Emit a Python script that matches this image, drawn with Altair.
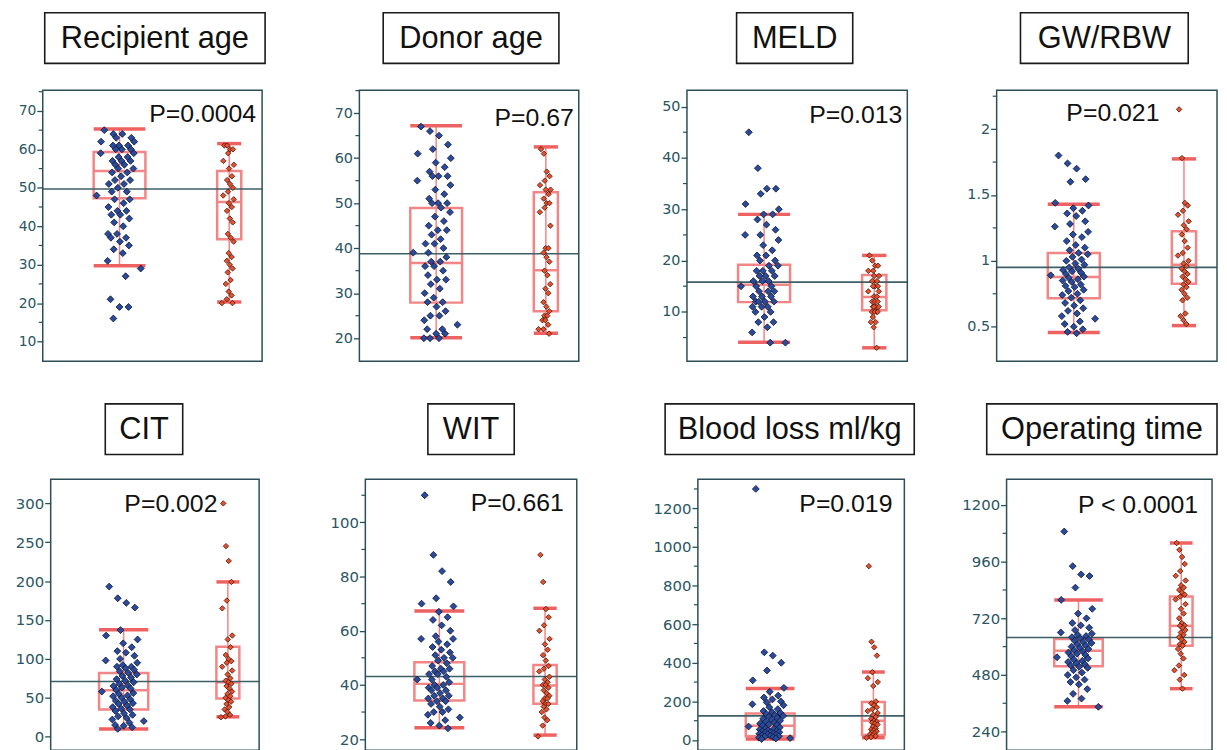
import altair as alt
import pandas as pd

# ---------------- data ----------------
titles = ["Recipient age", "Donor age", "MELD", "GW/RBW",
          "CIT", "WIT", "Blood loss ml/kg", "Operating time"]
p_values = ["P=0.0004", "P=0.67", "P=0.013", "P=0.021",
            "P=0.002", "P=0.661", "P=0.019", "P < 0.0001"]
grand_means = [49.7, 38.75, 15.8, 0.95, 71, 43.1, 125, 639]

recipient_blue = [65, 64, 64, 63, 63, 62, 62, 61, 61, 61, 60, 60, 60, 59, 59, 58, 58, 57, 57, 57, 56, 56, 55, 55,
                  54, 54, 53, 52, 52, 51, 51, 50, 49, 49, 48, 47, 47, 46, 45, 44, 44, 43, 43, 42, 41, 40, 38, 38,
                  37, 37, 36, 35, 34, 33, 31, 29, 27, 21, 19, 19, 16]
recipient_red = [61, 61, 60, 60, 59, 57, 56, 55, 53, 52, 51, 50, 49, 48, 47, 46, 45, 44, 42, 41, 38, 37, 36, 33,
                 32, 31, 30, 29, 28, 26, 25, 23, 22, 21, 20, 20]
donor_blue = [67, 66, 65, 63, 62, 61, 60, 59, 58, 57, 56, 56, 56, 55, 54, 53, 52, 51, 50, 50, 50, 49, 48, 47, 46,
              45, 44, 44, 43, 42, 41, 41, 40, 39, 39, 38, 37, 37, 36, 36, 35, 34, 33, 33, 32, 31, 30, 29, 28, 28,
              27, 26, 25, 25, 24, 23, 22, 22, 21, 21, 20, 20, 20]
donor_red = [62, 61, 57, 56, 55, 54, 53, 53, 52, 51, 50, 50, 49, 48, 45, 40, 40, 39, 38, 37, 35, 34, 32, 31, 30,
             28, 27, 26, 25, 25, 24, 24, 23, 22, 22, 21]
meld_blue = [45, 38, 34, 34, 33, 31, 30, 29, 29, 28, 27, 26, 25, 25, 24, 23, 22, 21, 21, 20, 20, 19, 19, 18, 18,
             18, 17, 17, 17, 16, 16, 16, 15, 15, 15, 14, 14, 14, 13, 13, 13, 12, 12, 12, 12, 11, 11, 11, 10, 10,
             9, 8, 8, 7, 6, 4, 4]
meld_red = [21, 20, 19, 19, 18, 18, 17, 17, 16, 16, 15, 15, 15, 14, 14, 13, 13, 12, 12, 12, 11, 11, 11, 11, 10,
            10, 10, 10, 9, 8, 8, 7, 3]
gwrbw_blue = [1.80, 1.74, 1.70, 1.62, 1.60, 1.44, 1.42, 1.40, 1.38, 1.36, 1.34, 1.30, 1.28, 1.26, 1.22, 1.20,
              1.18, 1.15, 1.12, 1.10, 1.08, 1.06, 1.05, 1.03, 1.01, 1.00, 0.98, 0.97, 0.95, 0.94, 0.93, 0.92,
              0.91, 0.90, 0.89, 0.88, 0.87, 0.86, 0.85, 0.84, 0.82, 0.81, 0.80, 0.78, 0.77, 0.75, 0.74, 0.72,
              0.70, 0.68, 0.66, 0.64, 0.62, 0.60, 0.58, 0.56, 0.54, 0.52, 0.50, 0.48, 0.46, 0.45]
gwrbw_red = [2.15, 1.78, 1.44, 1.42, 1.38, 1.35, 1.30, 1.27, 1.24, 1.20, 1.15, 1.10, 1.06, 1.04, 1.00, 0.98,
             0.96, 0.94, 0.92, 0.90, 0.88, 0.86, 0.84, 0.82, 0.80, 0.78, 0.75, 0.72, 0.70, 0.60, 0.58, 0.55, 0.52]
cit_blue = [193, 178, 172, 166, 137, 130, 125, 120, 115, 110, 108, 104, 100, 98, 95, 92, 90, 90, 88, 86, 84, 82,
            80, 78, 76, 74, 72, 70, 68, 66, 65, 63, 62, 60, 58, 56, 55, 53, 52, 50, 48, 46, 45, 43, 42, 40, 38,
            36, 35, 33, 30, 28, 26, 24, 22, 20, 18, 15, 14, 12, 10]
cit_red = [300, 245, 226, 199, 175, 165, 130, 125, 115, 105, 100, 97, 95, 90, 85, 80, 75, 72, 70, 68, 65, 62, 58,
           55, 52, 50, 47, 45, 42, 38, 35, 32, 28, 26, 25]
wit_blue = [110, 88, 82, 78, 72, 70, 69, 67, 65, 64, 62, 60, 58, 57, 57, 56, 55, 54, 53, 52, 51, 50, 50, 49, 48,
            47, 46, 46, 45, 45, 44, 44, 43, 42, 42, 41, 40, 40, 39, 39, 38, 38, 37, 36, 36, 35, 35, 34, 34, 33,
            32, 31, 30, 30, 29, 28, 27, 26, 25, 24]
wit_red = [88, 78, 68, 65, 62, 60, 57, 55, 53, 51, 49, 47, 46, 45, 43, 42, 41, 40, 40, 39, 38, 37, 36, 35, 35,
           34, 33, 33, 32, 31, 30, 28, 27, 25, 21]
blood_blue = [1300, 454, 437, 400, 360, 309, 270, 250, 230, 220, 210, 200, 195, 185, 180, 170, 160, 150, 145,
              140, 135, 130, 125, 120, 115, 110, 105, 100, 95, 90, 85, 80, 78, 75, 70, 65, 60, 58, 55, 50, 48,
              45, 42, 40, 38, 35, 32, 30, 28, 25, 22, 20, 18, 15, 12, 10, 8, 5]
blood_red = [900, 509, 480, 437, 351, 320, 300, 280, 200, 190, 180, 170, 160, 150, 140, 130, 120, 110, 100, 95,
             90, 85, 80, 70, 60, 55, 50, 45, 40, 35, 30, 25, 20, 15, 12]
optime_blue = [1088, 941, 906, 899, 850, 798, 760, 740, 720, 700, 690, 680, 670, 660, 655, 650, 645, 640, 635,
               630, 625, 620, 615, 610, 605, 600, 595, 590, 585, 580, 575, 570, 565, 560, 555, 550, 545, 540,
               535, 530, 525, 520, 515, 510, 500, 490, 480, 470, 460, 450, 440, 420, 400, 380, 370, 345]
optime_red = [1039, 1010, 980, 950, 920, 900, 880, 860, 850, 840, 830, 820, 812, 800, 780, 760, 740, 720, 700,
              690, 688, 680, 670, 660, 650, 640, 630, 620, 610, 604, 590, 570, 550, 520, 500, 480, 460, 422]

values_blue = [recipient_blue, donor_blue, meld_blue, gwrbw_blue, cit_blue, wit_blue, blood_blue, optime_blue]
values_red = [recipient_red, donor_red, meld_red, gwrbw_red, cit_red, wit_red, blood_red, optime_red]

# box statistics: [low whisker, Q1, median, Q3, high whisker]
box_blue = [[29.7, 47.3, 54.4, 59.3, 65.3], [20.1, 27.9, 36.7, 48.9, 67.2], [4.1, 11.9, 15.3, 19.2, 29.0],
            [0.455, 0.715, 0.877, 1.06, 1.43], [9.8, 35, 59.6, 82, 137.4], [24.2, 34.3, 40.4, 48.4, 67.3],
            [5, 20, 74, 137, 267], [345, 517, 583, 632, 798]]
box_red = [[20.3, 36.6, 46.3, 54.4, 61.5], [21.1, 26.0, 35.1, 52.4, 62.5], [3.0, 10.3, 12.9, 17.2, 21.0],
           [0.508, 0.826, 0.97, 1.224, 1.774], [25.5, 49, 70, 115.7, 199], [21.5, 33.1, 39.8, 47.4, 68.3],
           [12, 26, 100, 197, 352], [422, 604, 688, 812, 1039]]

y_domains = [[4.9, 75.4], [14.9, 75.1], [0.4, 53.2], [0.238, 2.296],
             [-17.5, 331], [15.9, 115.9], [-53, 1350], [161, 1309]]
tick_labels = [[10, 20, 30, 40, 50, 60, 70], [20, 30, 40, 50, 60, 70], [10, 20, 30, 40, 50],
               [0.5, 1, 1.5, 2], [0, 50, 100, 150, 200, 250, 300], [20, 40, 60, 80, 100],
               [0, 200, 400, 600, 800, 1000, 1200], [240, 480, 720, 960, 1200]]
minor_ticks = [[15, 25, 35, 45, 55, 65, 75], [25, 35, 45, 55, 65, 75], [5, 15, 25, 35, 45],
               [0.75, 1.25, 1.75, 2.25], [], [30, 50, 70, 90, 110],
               [100, 300, 500, 700, 900, 1100, 1300], [360, 600, 840, 1080]]

# ---------------- layout / style ----------------
FONT = "Liberation Sans, Arial, Helvetica, sans-serif"
TICKFONT = "Liberation Sans Narrow, Arial Narrow, DejaVu Sans, sans-serif"
BLUE, BLUE_EDGE = "#2a4a9c", "#0b1433"
RED, RED_EDGE = "#e4532e", "#4a1208"
BOX, CAP = "#f28585", "#ef6262"
MEAN = "#3f5f66"
FRAME = "#2c4f57"
LABEL = "#2a5663"

H = 273
col_widths = [229, 240, 222, 223]          # grid cell widths (per column)
frame_widths = [221, 221, 222, 222, 210, 213, 208, 207]
frame_insets = [0, 0, 0, 0, 8, 6, 11, 10]  # frame left inside its cell
# title box: x0, x1 relative to frame left; y0, y1 relative to plot top
title_boxes = [(2, 224, -78, -27), (24, 201, -78, -27), (50, 167, -78, -27), (24, 193, -78, -27),
               (55, 133, -76, -25), (63, 150, -76, -25), (-33, 218, -76, -25), (-20, 212, -76, -25)]
p_pos = [(215, 24), (216, 28), (217, 25), (164, 23), (168, 25), (200, 24), (196, 25), (193, 26)]
label_sizes = [14, 14.5, 14.5, 14.5, 15, 15, 15, 15]

XC = [0.35, 0.85]
HALF = [0.118, 0.055]
JIT = [0.11, 0.035]


def jitter(n, amp, center):
    out = []
    for i in range(n):
        g1 = (i * 0.6180339887) % 1.0
        g2 = (i * 0.7548776662 + 0.37) % 1.0
        out.append(center + amp * (g1 + g2 - 1.0))
    return out


def make_panel(k):
    d = frame_insets[k]
    w = frame_widths[k]
    lo, hi = y_domains[k]
    ysc = alt.Scale(domain=[lo, hi], nice=False, zero=False)
    xsc = alt.Scale(domain=[0, 1], range=[d, d + w], nice=False, zero=False)
    ax = alt.Axis(values=tick_labels[k], title=None, grid=False, domain=False, offset=-d,
                  labelExpr="toString(datum.value)", tickSize=6,
                  tickColor=FRAME, tickWidth=1.3, labelColor=LABEL, labelFont=TICKFONT,
                  labelFontSize=label_sizes[k], labelPadding=1)

    def X(f):
        return alt.X(f, type="quantitative", scale=xsc, axis=None)

    def Y(f):
        return alt.Y(f, type="quantitative", scale=ysc, axis=ax)

    sb, sr = box_blue[k], box_red[k]
    stats = pd.DataFrame({
        "xc": XC,
        "x0": [XC[0] - HALF[0], XC[1] - HALF[1]],
        "x1": [XC[0] + HALF[0], XC[1] + HALF[1]],
        "wlo": [sb[0], sr[0]], "q1": [sb[1], sr[1]], "med": [sb[2], sr[2]],
        "q3": [sb[3], sr[3]], "whi": [sb[4], sr[4]],
    })
    vb, vr = values_blue[k], values_red[k]
    df_b = pd.DataFrame({"v": vb, "xj": jitter(len(vb), JIT[0], XC[0])})
    df_r = pd.DataFrame({"v": vr, "xj": jitter(len(vr), JIT[1], XC[1])})

    tx0, tx1, ty0, ty1 = title_boxes[k]
    px, py = p_pos[k]
    tdf = pd.DataFrame({"t": [titles[k]], "p": [p_values[k]], "m": [grand_means[k]]})

    frame = alt.Chart(tdf).mark_rect(fillOpacity=0, stroke=FRAME, strokeWidth=1.5).encode(
        x=alt.value(d), x2=alt.value(d + w), y=alt.value(0), y2=alt.value(H))
    t_rect = alt.Chart(tdf).mark_rect(fill="white", stroke="#1a1a1a", strokeWidth=1.6).encode(
        x=alt.value(d + tx0), x2=alt.value(d + tx1), y=alt.value(ty0), y2=alt.value(ty1))
    t_text = alt.Chart(tdf).mark_text(font=FONT, fontSize=31, color="#111111", align="center",
                                      baseline="middle").encode(
        x=alt.value(d + (tx0 + tx1) / 2), y=alt.value((ty0 + ty1) / 2 + 1), text="t:N")
    p_text = alt.Chart(tdf).mark_text(font=FONT, fontSize=25, color="#111111", align="right",
                                      baseline="middle").encode(
        x=alt.value(d + px), y=alt.value(py), text="p:N")

    base = alt.Chart(stats)
    whisk = base.mark_rule(color=BOX, strokeWidth=1.5).encode(x=X("xc"), y=Y("wlo"), y2="whi:Q")
    box = base.mark_rect(fillOpacity=0, stroke=BOX, strokeWidth=2.5).encode(
        x=X("x0"), x2="x1:Q", y=Y("q1"), y2="q3:Q")
    med = base.mark_rule(color=BOX, strokeWidth=2.5).encode(x=X("x0"), x2="x1:Q", y=Y("med"))
    cap_lo = base.mark_rule(color=CAP, strokeWidth=3.5).encode(x=X("x0"), x2="x1:Q", y=Y("wlo"))
    cap_hi = base.mark_rule(color=CAP, strokeWidth=3.5).encode(x=X("x0"), x2="x1:Q", y=Y("whi"))
    mean = alt.Chart(tdf).mark_rule(color=MEAN, strokeWidth=1.6).encode(
        x=alt.value(d), x2=alt.value(d + w), y=Y("m"))
    pts_b = alt.Chart(df_b).mark_point(shape="diamond", filled=True, size=48, fill=BLUE, stroke=BLUE_EDGE,
                                       strokeWidth=0.8, opacity=1).encode(x=X("xj"), y=Y("v"))
    pts_r = alt.Chart(df_r).mark_point(shape="diamond", filled=True, size=30, fill=RED, stroke=RED_EDGE,
                                       strokeWidth=0.8, opacity=1).encode(x=X("xj"), y=Y("v"))

    layers = [t_rect, t_text, whisk, box, med, cap_lo, cap_hi, mean, pts_b, pts_r, p_text, frame]
    if minor_ticks[k]:
        mdf = pd.DataFrame({"t": minor_ticks[k]})
        minor = alt.Chart(mdf).mark_rule(color=FRAME, strokeWidth=1.2).encode(
            x=alt.value(d - 4), x2=alt.value(d), y=Y("t"))
        layers.append(minor)

    return alt.layer(*layers).properties(width=col_widths[k % 4], height=H)


panels = [make_panel(k) for k in range(8)]

chart = alt.concat(*panels, columns=4, spacing={"row": 119, "column": 90}, bounds="flush").properties(
    padding={"left": 6, "top": 0, "right": 0, "bottom": 0}, background="white"
).configure_view(stroke="transparent")

chart.save("out.html", embed_options={"renderer": "svg", "actions": False})
